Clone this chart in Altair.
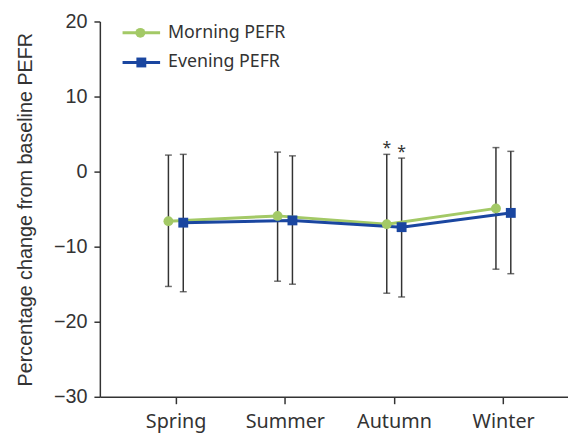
import altair as alt
import pandas as pd

seasons = ["Spring", "Summer", "Autumn", "Winter"]
series_names = ["Morning PEFR", "Evening PEFR"]

morning_mean = [-6.6, -5.9, -7.0, -4.9]
morning_upper = [2.2, 2.6, 2.3, 3.2]
morning_lower = [-15.3, -14.6, -16.2, -13.0]
morning_mark = ["", "", "*", ""]

evening_mean = [-6.8, -6.5, -7.4, -5.5]
evening_upper = [2.3, 2.1, 1.8, 2.7]
evening_lower = [-16.0, -15.0, -16.7, -13.6]
evening_mark = ["", "", "*", ""]

dodge = {"Morning PEFR": -0.066, "Evening PEFR": 0.07}
colors = ["#a3c966", "#1a46a0"]

rows = []
for name, mean, up, lo, mk in [
    ("Morning PEFR", morning_mean, morning_upper, morning_lower, morning_mark),
    ("Evening PEFR", evening_mean, evening_upper, evening_lower, evening_mark),
]:
    for i, s in enumerate(seasons):
        rows.append({"series": name, "season": s, "pos": i + dodge[name],
                     "mean": mean[i], "upper": up[i], "lower": lo[i], "mark": mk[i]})
df = pd.DataFrame(rows)
legend_df = pd.DataFrame({"series": series_names})

xscale = alt.Scale(domain=[-0.694, 3.594], nice=False, zero=False)
yscale = alt.Scale(domain=[-30, 20], nice=False)

xaxis = alt.Axis(values=[0, 1, 2, 3], labelExpr="['Spring','Summer','Autumn','Winter'][datum.value]",
                 title=None, grid=False, tickSize=7, labelPadding=8, labelFontSize=20,
                 labelFont="Noto Sans")
yaxis = alt.Axis(values=[-30, -20, -10, 0, 10, 20], title="Percentage change from baseline PEFR",
                 grid=False, tickSize=6, labelPadding=7, labelFontSize=20, titleFontSize=20,
                 titleFontWeight="normal", titlePadding=18,
                 labelFont="Liberation Sans", titleFont="Liberation Sans")

base = alt.Chart(df)
x = alt.X("pos:Q", scale=xscale, axis=xaxis)
color_scale = alt.Scale(domain=series_names, range=colors)

rules = base.mark_rule(color="#333333", strokeWidth=1.5).encode(
    x=x, y=alt.Y("lower:Q", scale=yscale, axis=yaxis), y2="upper:Q")
cap_hi = base.mark_tick(orient="horizontal", size=7, thickness=1.5, color="#333333").encode(
    x=x, y="upper:Q")
cap_lo = base.mark_tick(orient="horizontal", size=7, thickness=1.5, color="#333333").encode(
    x=x, y="lower:Q")

lines = base.mark_line(strokeWidth=3).encode(
    x=x, y="mean:Q",
    color=alt.Color("series:N", scale=color_scale, legend=None),
    order=alt.Order("pos:Q"))

pts_m = base.transform_filter(alt.datum.series == "Morning PEFR").mark_point(
    filled=True, size=100, opacity=1, shape="circle").encode(
    x=x, y="mean:Q", color=alt.Color("series:N", scale=color_scale, legend=None))
pts_e = base.transform_filter(alt.datum.series == "Evening PEFR").mark_point(
    filled=True, size=100, opacity=1, shape="square").encode(
    x=x, y="mean:Q", color=alt.Color("series:N", scale=color_scale, legend=None))

stars = base.transform_filter("datum.mark != ''").mark_text(
    fontSize=16, baseline="bottom", dy=2, color="#333333").encode(
    x=x, y="upper:Q", text="mark:N")

main = alt.layer(rules, cap_hi, cap_lo, lines, pts_m, pts_e, stars)

# legend drawn as its own small layer
ly = alt.Y("series:N", sort=series_names,
           scale=alt.Scale(type="point", domain=series_names, range=[11.5, 41.5], padding=0),
           axis=None)
lbase = alt.Chart(legend_df)
lcol = alt.Color("series:N", scale=color_scale, legend=None)
leg_line = lbase.mark_rule(strokeWidth=3).encode(
    x=alt.value(23), x2=alt.value(61), y=ly, color=lcol)
leg_m = lbase.transform_filter(alt.datum.series == "Morning PEFR").mark_point(
    filled=True, size=100, opacity=1, shape="circle").encode(x=alt.value(41), y=ly, color=lcol)
leg_e = lbase.transform_filter(alt.datum.series == "Evening PEFR").mark_point(
    filled=True, size=100, opacity=1, shape="square").encode(x=alt.value(42), y=ly, color=lcol)
leg_txt = lbase.mark_text(align="left", baseline="middle", fontSize=18, font="Noto Sans",
                          color="#333333").encode(x=alt.value(69), y=ly, text="series:N")
legend = alt.layer(leg_line, leg_m, leg_e, leg_txt)

chart = alt.layer(main, legend).resolve_scale(y="independent").properties(
    width=474, height=380,
    autosize=alt.AutoSizeParams(type="none"),
    padding={"left": 93, "top": 11, "right": 0, "bottom": 34},
).configure(font="Noto Sans").configure_view(stroke=None).configure_axis(
    domainColor="#333333", domainWidth=1.5, tickColor="#333333", tickWidth=1.5,
    labelColor="#333333", titleColor="#333333")

chart.save("out.html", embed_options={"renderer": "svg", "actions": False})
